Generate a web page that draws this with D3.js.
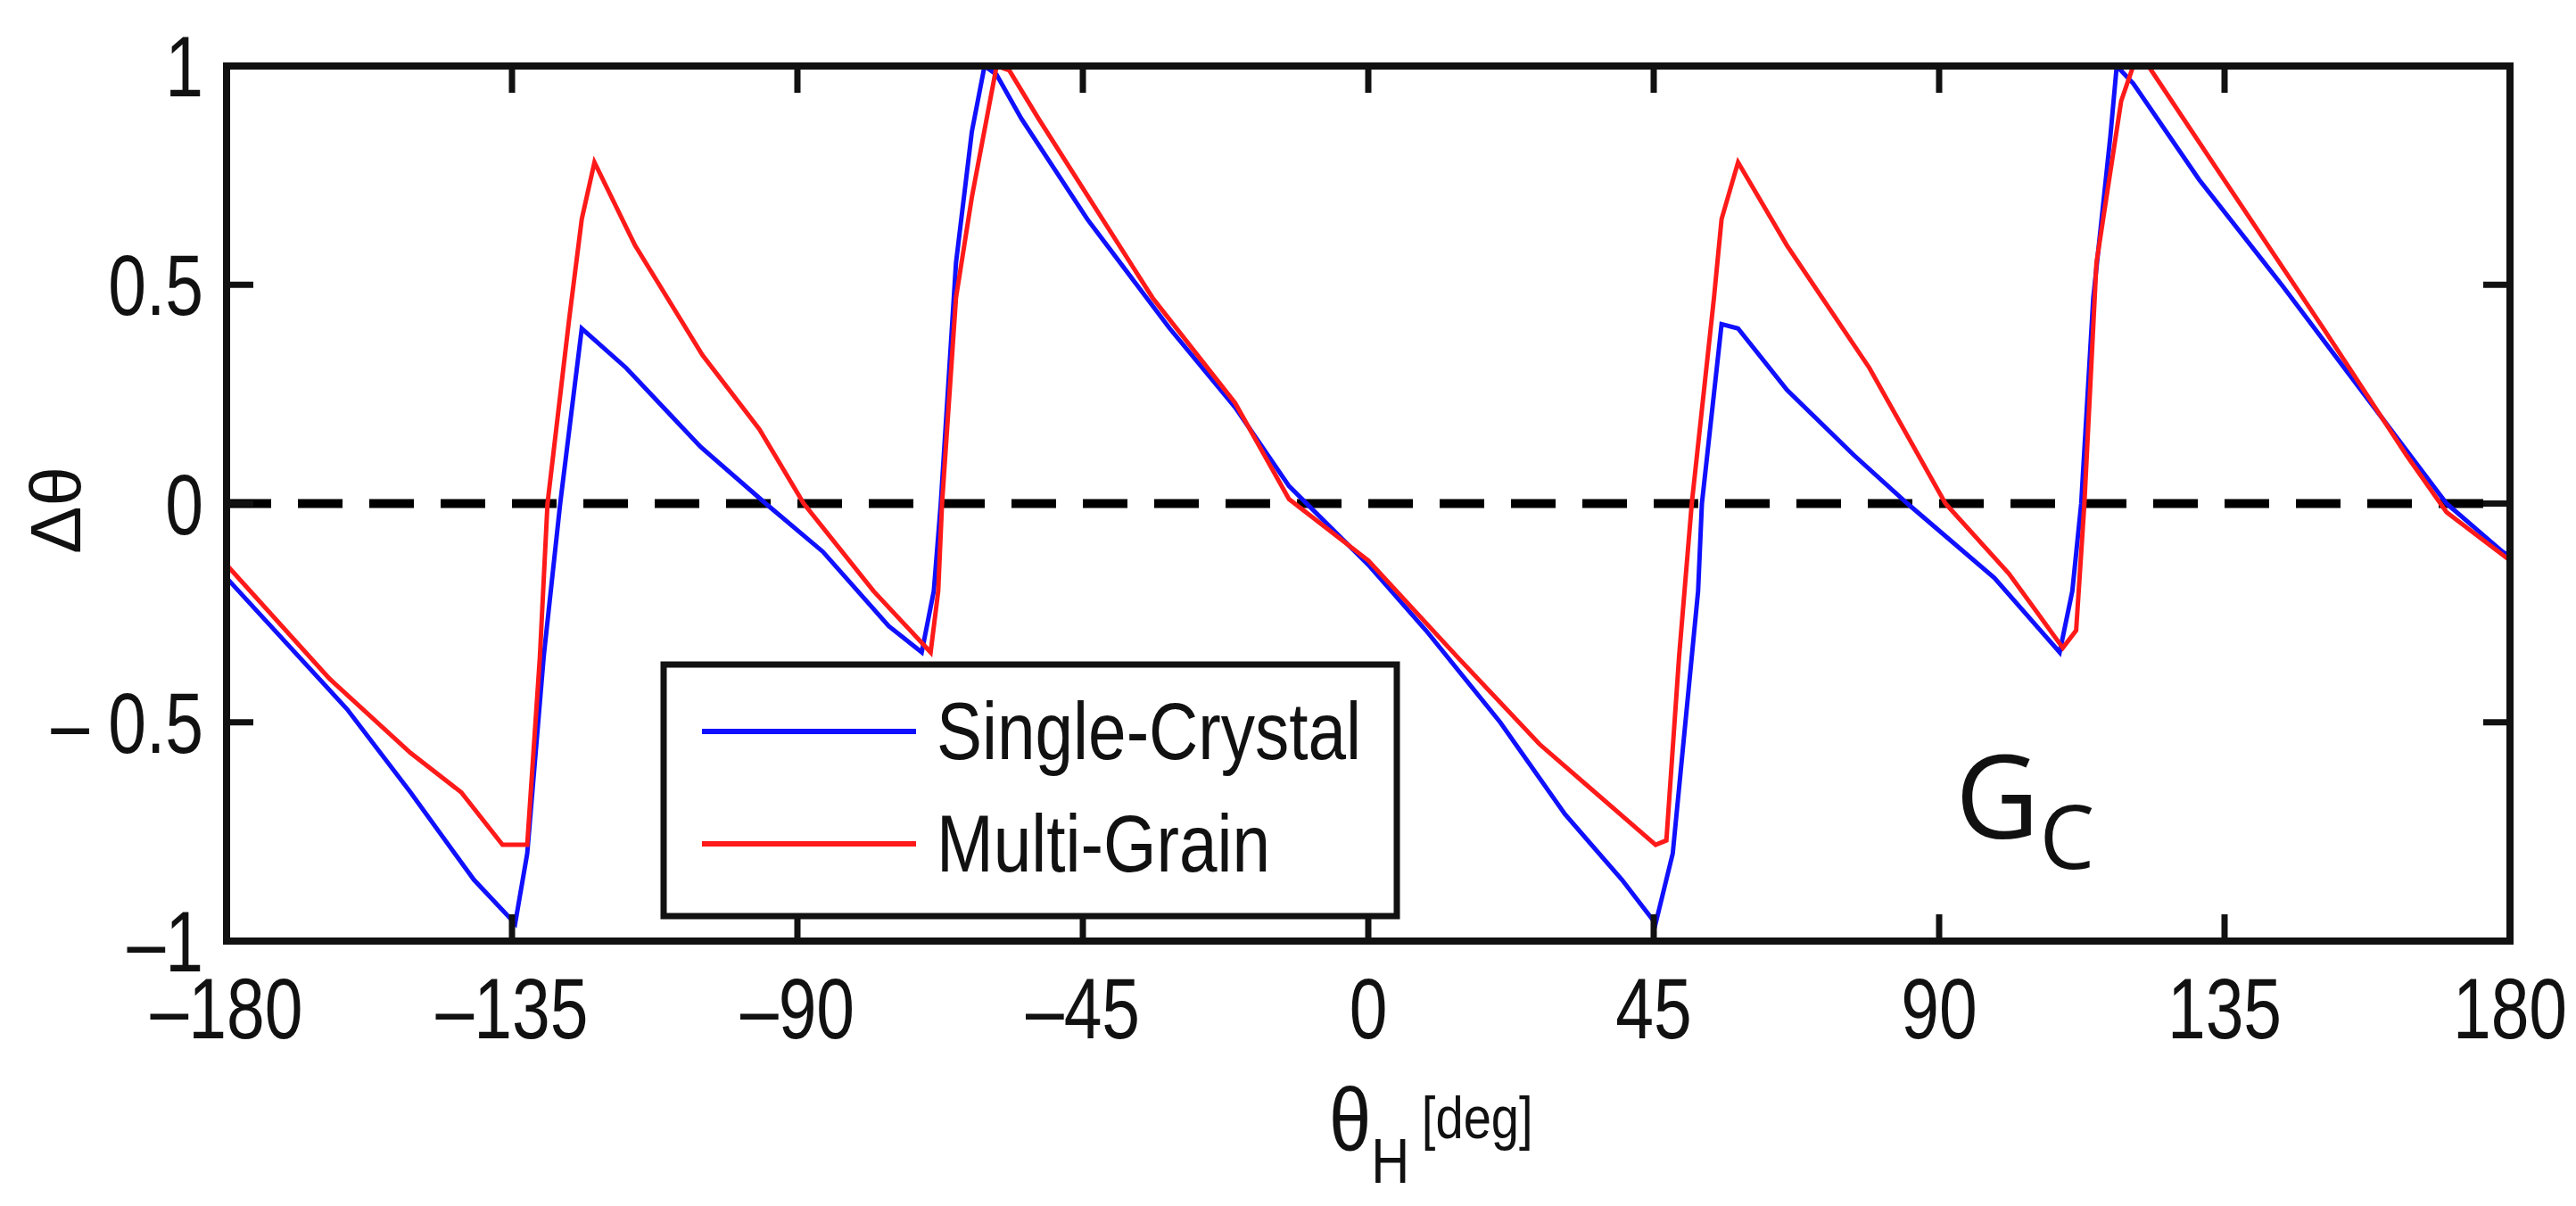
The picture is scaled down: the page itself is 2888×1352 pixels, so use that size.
<!DOCTYPE html>
<html><head><meta charset="utf-8">
<script src="https://cdn.jsdelivr.net/npm/d3@7"></script>
<style>body{margin:0;background:#fff}svg{display:block}</style>
</head><body>
<script>
const xTicks = [-180,-135,-90,-45,0,45,90,135,180];
const yTicks = [-1,-0.5,0,0.5,1];
const singleX = [-180,-161,-151,-141,-134.5,-132.6,-130,-127.4,-124,-117,-105.3,-95,-86,-75.6,-70.4,-68.5,-67.4,-65,-62.5,-60.5,-58.6,-54.7,-44.3,-31.3,-21,-12.5,0,9.1,20.8,31,40,45.3,48,52,52.6,55.7,58.3,66,76.6,85,98.7,109,111,112.4,114.3,117,118,120.6,131,144,157,170,178.8,180];
const singleY = [-0.17,-0.47,-0.66,-0.86,-0.96,-0.80,-0.35,0,0.40,0.31,0.13,0,-0.11,-0.28,-0.34,-0.20,0,0.55,0.85,1.0,0.98,0.88,0.65,0.40,0.22,0.04,-0.14,-0.29,-0.50,-0.71,-0.86,-0.96,-0.80,-0.20,0,0.41,0.40,0.26,0.11,0,-0.17,-0.34,-0.20,0,0.47,0.84,1.0,0.96,0.74,0.50,0.25,0,-0.11,-0.12];
const multiX = [-180,-163.8,-151,-143,-136.5,-132.6,-130.6,-129.4,-126,-124,-122,-115.6,-105,-96,-89,-78,-69,-67.8,-67.2,-65,-62.5,-58.6,-56.6,-52,-34,-21,-12.5,0,14,27,45.3,47,49,51,54.5,55.7,58.3,66,79,91,101,109.5,111.6,112.9,114.8,118.7,120.6,123,134,150.6,163.7,170,180];
const multiY = [-0.14,-0.40,-0.57,-0.66,-0.78,-0.78,-0.35,0,0.42,0.65,0.78,0.59,0.34,0.17,0,-0.20,-0.34,-0.20,0,0.47,0.70,1.0,0.99,0.88,0.47,0.23,0.01,-0.13,-0.35,-0.55,-0.78,-0.77,-0.35,0,0.47,0.65,0.78,0.59,0.31,0,-0.16,-0.33,-0.29,0,0.55,0.92,1.0,1.0,0.76,0.40,0.11,-0.02,-0.13];
const seriesNames = ["Single-Crystal","Multi-Grain"];
const seriesColors = ["#1010ff","#ff1a1a"];

const W=2888,H=1352, L=254,R=2814,T=74,B=1055;
const svg=d3.select("body").append("svg").attr("width",W).attr("height",H);
const x=d3.scaleLinear().domain([-180,180]).range([L,R]);
const y=d3.scaleLinear().domain([-1,1]).range([B,T]);
const font='"Liberation Sans",Arial,sans-serif';
const SX=0.8;

svg.append("line").attr("x1",x(-180)).attr("x2",x(180)).attr("y1",y(0)).attr("y2",y(0))
  .attr("stroke","#000").attr("stroke-width",10).attr("stroke-dasharray","50,30");

svg.append("clipPath").attr("id","c").append("rect").attr("x",L).attr("y",T-4).attr("width",R-L).attr("height",B-T+8);
const line=d3.line().x(d=>x(d[0])).y(d=>y(d[1]));
const sData=singleX.map((v,i)=>[v,singleY[i]]);
const mData=multiX.map((v,i)=>[v,multiY[i]]);
const g=svg.append("g").attr("clip-path","url(#c)");
g.append("path").datum(sData).attr("d",line).attr("fill","none").attr("stroke",seriesColors[0]).attr("stroke-width",5);
g.append("path").datum(mData).attr("d",line).attr("fill","none").attr("stroke",seriesColors[1]).attr("stroke-width",5);

const tl=30;
const ax=svg.append("g").attr("stroke","#111").attr("stroke-width",7);
xTicks.slice(1,-1).forEach(t=>{
  ax.append("line").attr("x1",x(t)).attr("x2",x(t)).attr("y1",T).attr("y2",T+tl);
  ax.append("line").attr("x1",x(t)).attr("x2",x(t)).attr("y1",B).attr("y2",B-tl);
});
yTicks.slice(1,-1).forEach(t=>{
  ax.append("line").attr("x1",L).attr("x2",L+tl).attr("y1",y(t)).attr("y2",y(t));
  ax.append("line").attr("x1",R).attr("x2",R-tl).attr("y1",y(t)).attr("y2",y(t));
});
svg.append("rect").attr("x",L).attr("y",T).attr("width",R-L).attr("height",B-T).attr("fill","none").attr("stroke","#111").attr("stroke-width",8);

const fmtY=v=>v===0?"0":(v<0?(v===-1?"\u2013":"\u2013 "):"")+Math.abs(v);
svg.selectAll(".yl").data(yTicks).join("text").attr("transform",d=>`translate(${L-26},${y(d)+34}) scale(${SX},1)`)
  .attr("text-anchor","end").attr("font-family",font).attr("font-size",96).attr("fill","#111").text(fmtY);
svg.selectAll(".xl").data(xTicks).join("text").attr("transform",d=>`translate(${x(d)},1164) scale(${SX},1)`)
  .attr("text-anchor","middle").attr("font-family",font).attr("font-size",96).attr("fill","#111").text(d=>d<0?"\u2013"+Math.abs(d):d);

svg.append("text").attr("transform","translate(90,572) rotate(-90)").attr("text-anchor","middle")
  .attr("font-family",font).attr("font-size",80).attr("fill","#111").text("Δθ");
const xt=svg.append("text").attr("transform","translate(1490,1290) scale(0.85,1)").attr("font-family",font).attr("fill","#111");
xt.append("tspan").attr("font-size",100).text("θ");
xt.append("tspan").attr("font-size",70).attr("dy",36).text("H");
xt.append("tspan").attr("font-size",66).attr("dy",-50).attr("dx",16).text("[deg]");

svg.append("rect").attr("x",744).attr("y",745).attr("width",822).attr("height",282).attr("fill","#fff").attr("stroke","#111").attr("stroke-width",7);
const ly=[820,946];
seriesNames.forEach((n,i)=>{
  svg.append("line").attr("x1",787).attr("x2",1027).attr("y1",ly[i]).attr("y2",ly[i]).attr("stroke",seriesColors[i]).attr("stroke-width",6);
  svg.append("text").attr("transform",`translate(1050,${ly[i]+31}) scale(0.85,1)`).attr("font-family",font).attr("font-size",90).attr("fill","#111").text(n);
});

const gc=svg.append("text").attr("x",2192).attr("y",940).attr("font-family",'"Open Sans","DejaVu Sans",sans-serif').attr("fill","#111");
gc.append("tspan").attr("font-size",130).text("G");
gc.append("tspan").attr("font-size",98).attr("dy",34).text("C");
</script>
</body></html>
